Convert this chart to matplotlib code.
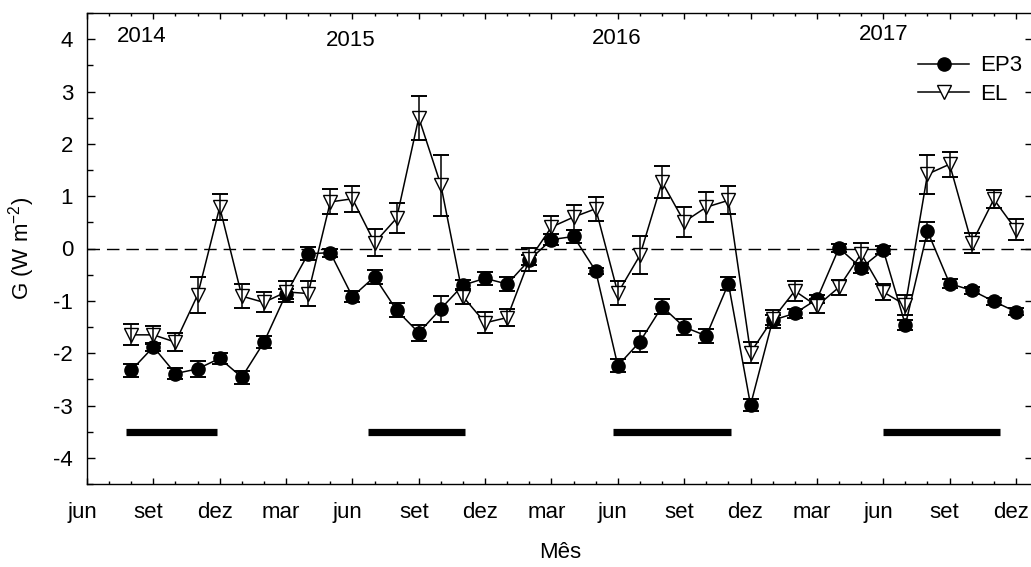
import matplotlib
matplotlib.use("Agg")
import matplotlib.pyplot as plt
import matplotlib.transforms as mtransforms
import numpy as np

plt.rcParams['font.family'] = ['Liberation Sans', 'DejaVu Sans']
plt.rcParams['mathtext.fontset'] = 'custom'
plt.rcParams['mathtext.rm'] = 'Liberation Sans'
plt.rcParams['mathtext.it'] = 'Liberation Sans:italic'
plt.rcParams['axes.unicode_minus'] = False

# months counted from jun/2014 (= 0)
meses = np.arange(2, 43)

ep3 = [-2.33, -1.88, -2.39, -2.30, -2.10, -2.46, -1.79, -0.87, -0.10, -0.08,
       -0.92, -0.54, -1.18, -1.61, -1.15, -0.70, -0.57, -0.68, -0.22, 0.17,
       0.23, -0.43, -2.24, -1.78, -1.11, -1.50, -1.67, -0.67, -2.99, -1.37,
       -1.24, -0.97, 0.01, -0.37, -0.03, -1.46, 0.33, -0.67, -0.80, -1.01,
       -1.21]
ep3_err = [0.12, 0.07, 0.10, 0.15, 0.10, 0.12, 0.11, 0.10, 0.12, 0.08,
           0.11, 0.13, 0.13, 0.15, 0.25, 0.10, 0.13, 0.13, 0.10, 0.11,
           0.13, 0.06, 0.12, 0.20, 0.14, 0.15, 0.14, 0.12, 0.11, 0.10,
           0.08, 0.08, 0.08, 0.10, 0.08, 0.10, 0.18, 0.08, 0.07, 0.07,
           0.07]

el = [-1.65, -1.65, -1.79, -0.89, 0.79, -0.91, -1.03, -0.83, -0.86, 0.89,
      0.95, 0.11, 0.58, 2.50, 1.21, -0.92, -1.42, -1.32, -0.21, 0.41,
      0.60, 0.76, -0.85, -0.13, 1.27, 0.51, 0.79, 0.92, -1.99, -1.35,
      -0.81, -1.10, -0.74, -0.10, -0.83, -1.08, 1.42, 1.61, 0.10, 0.94,
      0.36]
el_err = [0.20, 0.17, 0.17, 0.35, 0.25, 0.23, 0.19, 0.20, 0.23, 0.24,
          0.25, 0.26, 0.28, 0.42, 0.58, 0.15, 0.20, 0.17, 0.22, 0.22,
          0.24, 0.23, 0.23, 0.36, 0.30, 0.29, 0.29, 0.27, 0.20, 0.17,
          0.19, 0.13, 0.14, 0.20, 0.15, 0.20, 0.37, 0.24, 0.19, 0.17,
          0.20]

# dry season bars (start, end month)
periodos = [(1.75, 5.9), (12.7, 17.1), (23.8, 29.1), (36.0, 41.3)]

anos = ['2014', '2015', '2016', '2017']
anos_x = [2.45, 11.9, 23.95, 36.0]
anos_y = [4.06, 3.98, 4.01, 4.08]

rotulos = ['jun', 'set', 'dez', 'mar'] * 3 + ['jun', 'set', 'dez']

fs = 16

fig = plt.figure(figsize=(10.31, 5.67), dpi=100)
ax = fig.add_axes([87 / 1031, 83 / 567, 946 / 1031, 471 / 567])

ax.axhline(0, color='black', lw=1.0, dashes=(9, 5), zorder=1)

ax.plot(meses, ep3, '-o', color='black', lw=1.1, ms=9.5,
        mfc='black', mec='black', label='EP3', zorder=3)
ax.errorbar(meses, ep3, yerr=ep3_err, fmt='none', ecolor='black',
            elinewidth=1.1, capsize=5.5, capthick=1.4, zorder=4)

ax.plot(meses, el, '-v', color='black', lw=1.1, ms=9.5,
        mfc='white', mec='black', mew=1.0, label='EL', zorder=5)
ax.errorbar(meses, el, yerr=el_err, fmt='none', ecolor='black',
            elinewidth=1.1, capsize=5.5, capthick=1.4, zorder=6)

for a, b in periodos:
    ax.plot([a, b], [-3.5, -3.5], color='black', lw=5.2,
            solid_capstyle='butt', zorder=2)

for t, xx, yy in zip(anos, anos_x, anos_y):
    ax.text(xx, yy, t, ha='center', va='center', fontsize=fs)

ax.set_xlim(0, 42.77)
ax.set_ylim(-4.5, 4.5)

ax.set_xticks(np.arange(0, 43, 3))
ax.set_xticks(np.arange(0, 43, 1), minor=True)
ax.set_xticklabels(rotulos)
ax.set_yticks(np.arange(-4, 5, 1))
ax.set_yticks(np.arange(-4.5, 4.6, 0.5), minor=True)

ax.tick_params(axis='x', which='both', direction='in', top=True,
               labelsize=fs, pad=13)
ax.tick_params(axis='x', which='major', length=4.5, width=1)
ax.tick_params(axis='x', which='minor', length=2.5, width=1)
ax.tick_params(axis='y', which='both', direction='in', right=True,
               labelsize=fs, pad=10)
ax.tick_params(axis='y', which='major', length=5.5, width=1)
ax.tick_params(axis='y', which='minor', length=4.5, width=1, right=False)

# nudge month labels a little to the left
shift = mtransforms.ScaledTranslation(-5 / 100, 0, fig.dpi_scale_trans)
for lbl in ax.get_xticklabels():
    lbl.set_transform(lbl.get_transform() + shift)

for s in ax.spines.values():
    s.set_linewidth(1.0)

ax.set_xlabel('Mês', fontsize=fs, labelpad=14)
ax.set_ylabel('G (W m$^{-2}$)', fontsize=fs, labelpad=12)

ax.legend(loc='upper left', bbox_to_anchor=(906 / 1031, 1 - 51 / 567),
          frameon=False, fontsize=fs, handlelength=2.3,
          handletextpad=0.5, labelspacing=0.33, borderpad=0,
          borderaxespad=0, numpoints=1)

fig.savefig('out.png', dpi=100)
